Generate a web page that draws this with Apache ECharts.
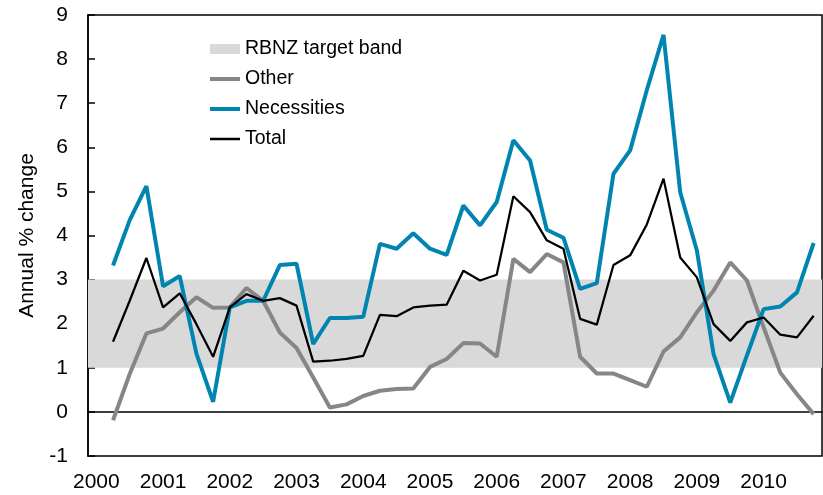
<!DOCTYPE html>
<html>
<head>
<meta charset="utf-8">
<script src="https://cdn.jsdelivr.net/npm/echarts@6/dist/echarts.min.js"></script>
<style>
  html, body { margin: 0; padding: 0; background: #fff; }
  #chart { width: 823px; height: 495px; }
</style>
</head>
<body>
<div id="chart"></div>
<script>
// quarterly, first quarter of 2000 has no value
const years = ['2000', '2001', '2002', '2003', '2004', '2005', '2006', '2007', '2008', '2009', '2010']
const quarters = ['Q1', 'Q2', 'Q3', 'Q4']
const categories = years.flatMap(y => quarters.map(q => y + ' ' + q))

const bandLow = 1
const bandHigh = 3

const other = [null, -0.19, 0.86, 1.78, 1.89, 2.26, 2.60, 2.36, 2.37, 2.81, 2.52, 1.80, 1.45, 0.78, 0.10, 0.17,
  0.36, 0.48, 0.52, 0.53, 1.02, 1.20, 1.56, 1.55, 1.25, 3.47, 3.17, 3.58, 3.39, 1.25, 0.87, 0.87,
  0.72, 0.57, 1.37, 1.69, 2.26, 2.75, 3.39, 2.98, 1.92, 0.89, 0.40, -0.05]

const necessities = [null, 3.32, 4.35, 5.12, 2.85, 3.08, 1.32, 0.23, 2.37, 2.52, 2.52, 3.33, 3.36, 1.54, 2.13, 2.13,
  2.16, 3.81, 3.70, 4.05, 3.70, 3.56, 4.68, 4.23, 4.76, 6.16, 5.70, 4.13, 3.95, 2.79, 2.92, 5.40,
  5.93, 7.30, 8.55, 4.98, 3.66, 1.31, 0.21, 1.28, 2.33, 2.39, 2.71, 3.83]

const total = [null, 1.59, 2.52, 3.49, 2.37, 2.69, 1.99, 1.25, 2.37, 2.67, 2.52, 2.58, 2.41, 1.14, 1.16, 1.20,
  1.27, 2.20, 2.17, 2.37, 2.41, 2.43, 3.20, 2.98, 3.11, 4.89, 4.53, 3.89, 3.70, 2.11, 1.98, 3.33,
  3.55, 4.25, 5.29, 3.50, 3.05, 1.99, 1.61, 2.03, 2.14, 1.75, 1.69, 2.18]

const font = 'Liberation Sans, Arial, sans-serif'

const chart = echarts.init(document.getElementById('chart'))

// hide the dot that line series put in the middle of their legend icon
const noDot = { opacity: 0 }

chart.setOption({
  animation: false,
  backgroundColor: '#fff',
  textStyle: { fontFamily: font, color: '#000' },
  grid: {
    left: 88,
    right: 1,
    top: 15,
    bottom: 39,
    show: true,
    borderColor: '#000',
    borderWidth: 1.5
  },
  legend: {
    orient: 'vertical',
    left: 208,
    top: 39,
    padding: 0,
    itemWidth: 30,
    itemHeight: 10,
    itemGap: 10,
    textStyle: { fontFamily: font, fontSize: 19.5, color: '#000', lineHeight: 20 },
    data: [
      { name: 'RBNZ target band', icon: 'rect' },
      { name: 'Other', itemStyle: noDot, lineStyle: { width: 4 } },
      { name: 'Necessities', itemStyle: noDot, lineStyle: { width: 4 } },
      { name: 'Total', itemStyle: noDot, lineStyle: { width: 2.5 } }
    ]
  },
  xAxis: [
    {
      type: 'category',
      data: categories,
      position: 'bottom',
      axisLine: { onZero: true, lineStyle: { color: '#000', width: 1.5 } },
      axisTick: { interval: 3, inside: true, length: 6, lineStyle: { color: '#000', width: 1.5 } },
      axisLabel: { show: false },
      splitLine: { show: false }
    },
    {
      type: 'category',
      data: categories,
      position: 'bottom',
      axisLine: { show: false, onZero: false },
      axisTick: { show: false },
      axisLabel: {
        interval: 3,
        margin: 16,
        fontSize: 21,
        color: '#000',
        formatter: v => v.slice(0, 4)
      },
      splitLine: { show: false }
    }
  ],
  yAxis: {
    type: 'value',
    min: -1,
    max: 9,
    interval: 1,
    name: 'Annual % change',
    nameLocation: 'middle',
    nameRotate: 90,
    nameGap: 50,
    nameTextStyle: { fontSize: 21, color: '#000' },
    axisLine: { show: true, lineStyle: { color: '#000', width: 1.5 } },
    axisTick: { show: true, inside: true, length: 7, lineStyle: { color: '#000', width: 1.5 } },
    axisLabel: { fontSize: 21, color: '#000', margin: 20 },
    splitLine: { show: false }
  },
  series: [
    {
      name: 'RBNZ target band',
      type: 'bar',
      data: categories.map(() => null),
      itemStyle: { color: '#d9d9d9' },
      z: 1,
      markArea: {
        silent: true,
        itemStyle: { color: '#d9d9d9' },
        data: [[{ yAxis: bandLow }, { yAxis: bandHigh }]]
      }
    },
    {
      name: 'Other',
      type: 'line',
      data: other,
      symbol: 'none',
      color: '#868686',
      lineStyle: { color: '#868686', width: 4 },
      z: 3
    },
    {
      name: 'Necessities',
      type: 'line',
      data: necessities,
      symbol: 'none',
      color: '#0085b0',
      lineStyle: { color: '#0085b0', width: 4 },
      z: 4
    },
    {
      name: 'Total',
      type: 'line',
      data: total,
      symbol: 'none',
      color: '#000',
      lineStyle: { color: '#000', width: 2.25 },
      z: 5
    }
  ]
})
</script>
</body>
</html>
